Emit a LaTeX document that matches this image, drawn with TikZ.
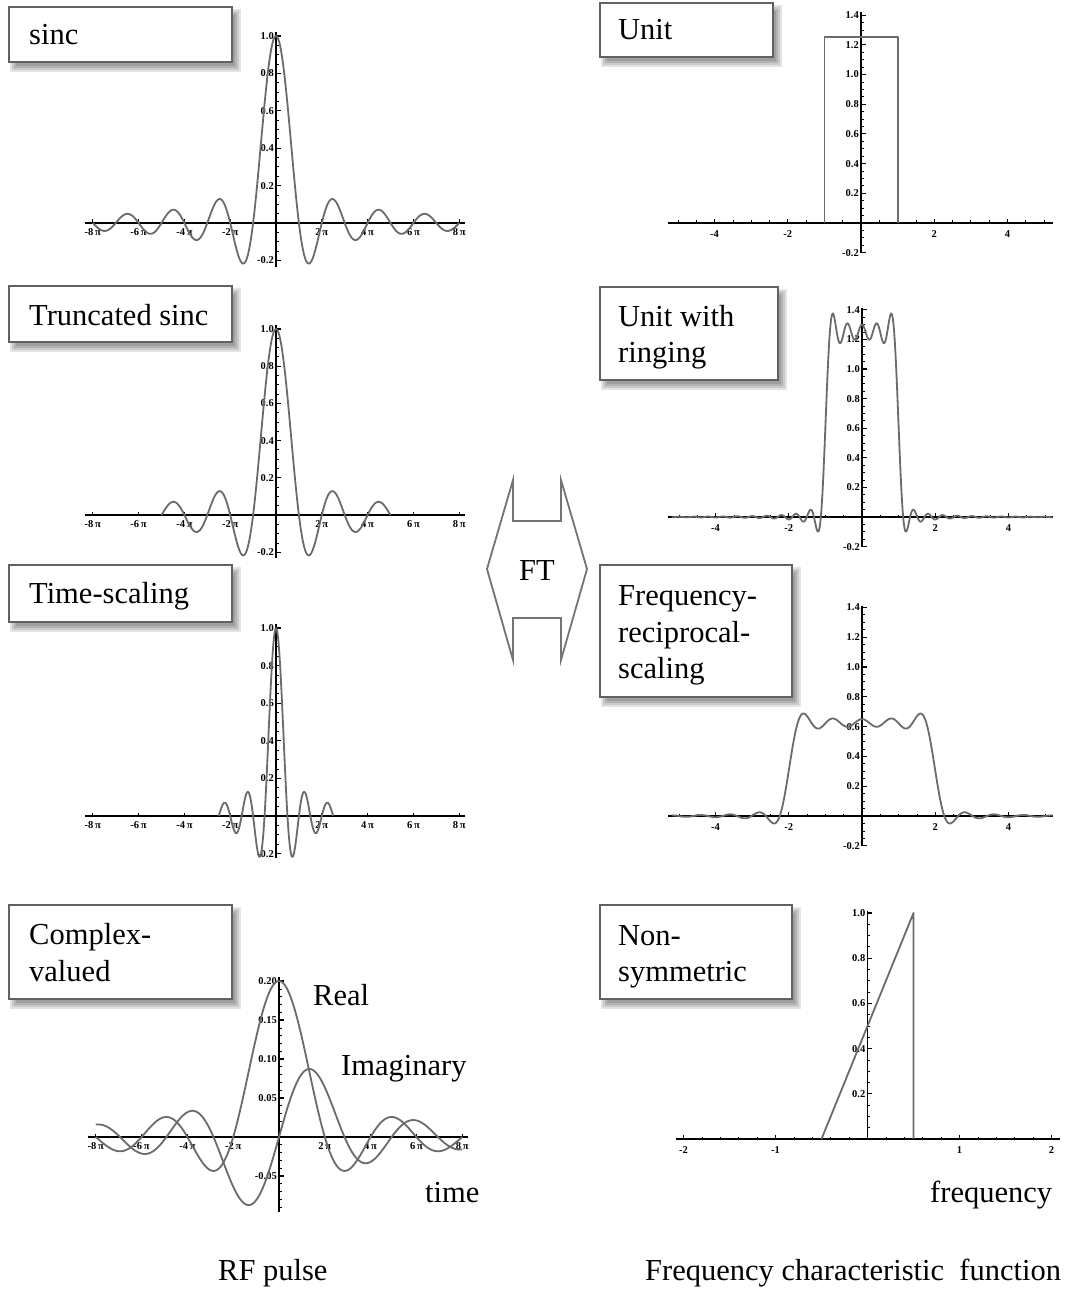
\documentclass[tikz,border=0pt]{standalone}
\usepackage{fontspec}
\setmainfont{Liberation Serif}
\tikzset{
  axis/.style={black, line width=1.1pt},
  curve/.style={draw=black!58, line width=1.8pt, line join=round},
  boxst/.style={draw=black!62, line width=1.8pt, fill=white, inner sep=0pt, outer sep=0pt},
  lbl/.style={font=\fontsize{30.5}{36}\selectfont, inner sep=0pt, anchor=base west},
  tick/.style={font=\fontsize{10.5}{11}\selectfont\bfseries, inner sep=0.5pt},
  ftarrow/.style={draw=black!55, line width=1.8pt, fill=white, line join=miter},
}
% shadowed label box: name, x1, y1, x2, y2
\newcommand\pbox[5]{%
  \foreach \e in {-2,0,2,4}{\fill[black,opacity=0.11] ({#2+5-\e},{#3+6-\e}) rectangle ({#4+5+\e},{#5+6+\e});}
  \node[boxst, anchor=north west, minimum width={#4-#2}, minimum height={#5-#3}] (#1) at (#2,#3) {};
}
% time axis: x0, y0, left, right
\newcommand\taxes[4]{%
  \draw[axis] (#3,#2) -- (#4,#2);
  \foreach \k in {-8,-6,-4,-2,2,4,6,8}{
    \draw[axis] ({#1+22.9*\k},#2) -- ({#1+22.9*\k},{#2-3.5});
    \node[tick] at ({#1+22.9*\k},{#2+9}) {\k\,π};}
}
% frequency axis: x0, y0, sx, left, right, minor list, label list
\newcommand\fxaxis[7]{%
  \draw[axis] (#4,#2) -- (#5,#2);
  \foreach \w in {#6}{\draw[axis,line width=0.8pt] ({#1+#3*\w},#2) -- ({#1+#3*\w},{#2-2.5});}
  \foreach \w in {#7}{\draw[axis] ({#1+#3*\w},#2) -- ({#1+#3*\w},{#2-4});
    \node[tick] at ({#1+#3*\w},{#2+11}) {\w};}
}
% y axis line: x0, y0, sy, bottom, top
\newcommand\yline[5]{\draw[axis] (#1,{#2-#3*(#5)}) -- (#1,{#2-#3*(#4)});}
% minor ticks: x0, y0, sy, first, second, last
\newcommand\yminor[6]{\foreach \v in {#4,#5,...,#6}{\draw[axis,line width=0.8pt] (#1,{#2-#3*\v}) -- ({#1+2.5},{#2-#3*\v});}}
% major ticks with labels: x0, y0, sy, list
\newcommand\ymajor[4]{\foreach \v in {#4}{\draw[axis] (#1,{#2-#3*\v}) -- ({#1+4.5},{#2-#3*\v});
    \node[tick,anchor=east] at ({#1-1.5},{#2-#3*\v}) {\v};}}
\begin{document}
\begin{tikzpicture}[x=1pt,y=-1pt,
  declare function={
    sincf(\u)=(abs(\u)<0.02) ? 1 : sin(abs(\u) r)/max(abs(\u),0.02);
    imagf(\u)=(abs(\u)<0.3) ? (\u/3-\u*\u*\u/30) : (sin(\u r)-\u*cos(\u r))/(max(abs(\u),0.3)*max(abs(\u),0.3));
    siq(\t)=(1/\t)*(1/\t);
    sifa(\t)=(1+7.241163*siq(\t)+2.463936*siq(\t)*siq(\t))/(1+9.068580*siq(\t)+7.157433*siq(\t)*siq(\t))/\t;
    sigb(\t)=(1+7.547478*siq(\t)+1.564072*siq(\t)*siq(\t))/(1+12.723684*siq(\t)+15.723606*siq(\t)*siq(\t))*siq(\t);
    sibig(\t)=pi/2-sifa(\t)*cos(\t r)-sigb(\t)*sin(\t r);
    sismall(\t)=\t*(1-\t*\t*(0.0555556-\t*\t*0.0016667));
    sipos(\t)=(\t<1) ? sismall(min(\t,1)) : sibig(max(\t,1));
    siint(\t)=\t/max(abs(\t),0.0001)*sipos(abs(\t));
  }]
\fill[white] (0,0) rectangle (1065,1289);
\useasboundingbox (0,0) rectangle (1065,1289);

% ---------- left column: RF pulses ----------
% sinc
\pbox{b1}{9}{7}{232}{62}
\node[lbl] (t1) at (29,45) {sinc};
\yline{276}{223}{187}{-0.235}{1.02}
\yminor{276}{223}{187}{-0.2}{-0.15}{1.0}
\ymajor{276}{223}{187}{1.0,0.8,0.6,0.4,0.2,-0.2}
\taxes{276}{223}{85}{465}
\draw[curve] plot[domain=-8:8,samples=400] ({276+22.9*\x},{223-187*sincf(pi*\x)});

% truncated sinc
\pbox{b2}{9}{286}{232}{342}
\node[lbl] (t2) at (29,325) {Truncated sinc};
\yline{276}{515}{186}{-0.23}{1.02}
\yminor{276}{515}{186}{-0.2}{-0.15}{1.0}
\ymajor{276}{515}{186}{1.0,0.8,0.6,0.4,0.2,-0.2}
\taxes{276}{515}{85}{465}
\draw[curve] plot[domain=-5:5,samples=300] ({276+22.9*\x},{515-186*sincf(pi*\x)});

% time scaling
\pbox{b3}{9}{565}{232}{622}
\node[lbl] (t3) at (29,603) {Time-scaling};
\yline{276}{816}{188}{-0.225}{1.02}
\yminor{276}{816}{188}{-0.2}{-0.15}{1.0}
\ymajor{276}{816}{188}{1.0,0.8,0.6,0.4,0.2,-0.2}
\taxes{276}{816}{85}{465}
\draw[curve] plot[domain=-2.5:2.5,samples=250] ({276+22.9*\x},{816-188*sincf(2*pi*\x)});

% complex valued
\pbox{b4}{9}{905}{232}{999}
\node[lbl] (t4a) at (29,944) {Complex-};
\node[lbl] (t4b) at (29,981) {valued};
\yline{279}{1137}{780}{-0.096}{0.205}
\yminor{279}{1137}{780}{-0.09}{-0.08}{0.2}
\ymajor{279}{1137}{780}{0.20,0.15,0.10,0.05,-0.05}
\taxes{279}{1137}{88}{468}
\draw[curve] plot[domain=-8:8,samples=400] ({279+22.9*\x},{1137-156*sincf(pi*\x/2)});
\draw[curve] plot[domain=-8:8,samples=400] ({279+22.9*\x},{1137-156*imagf(pi*\x/2)});
\node[lbl] (real) at (313,1005) {Real};
\node[lbl] (imag) at (341,1075) {Imaginary};
\node[lbl] (time) at (425,1202) {time};

% ---------- right column: frequency characteristics ----------
% unit
\pbox{b5}{600}{3}{773}{57}
\node[lbl] (t5) at (618,40) {Unit};
\yline{861}{223}{148.5}{-0.2}{1.42}
\yminor{861}{223}{148.5}{-0.2}{-0.15}{1.4}
\ymajor{861}{223}{148.5}{1.4,1.2,1.0,0.8,0.6,0.4,0.2,-0.2}
\fxaxis{861}{223}{36.6}{668}{1053}{-5,-4.5,...,5}{-4,-2,2,4}
\draw[curve] (824.4,223) -- (824.4,37.4) -- (897.6,37.4) -- (897.6,223);

% unit with ringing
\pbox{b6}{600}{287}{778}{380}
\node[lbl] (t6a) at (618,326) {Unit with};
\node[lbl] (t6b) at (618,362) {ringing};
\yline{862}{517}{148}{-0.2}{1.41}
\yminor{862}{517}{148}{-0.2}{-0.15}{1.4}
\ymajor{862}{517}{148}{1.4,1.2,1.0,0.8,0.6,0.4,0.2,-0.2}
\fxaxis{862}{517}{36.6}{668}{1053}{-5,-4.5,...,5}{-4,-2,2,4}
\draw[curve] plot[domain=-5.2:5.2,samples=400] ({862+36.6*\x},{517-148*1.25/pi*(siint(5*pi*(\x+1))-siint(5*pi*(\x-1)))});

% frequency reciprocal scaling
\pbox{b7}{600}{565}{792}{697}
\node[lbl] (t7a) at (618,605) {Frequency-};
\node[lbl] (t7b) at (618,642) {reciprocal-};
\node[lbl] (t7c) at (618,678) {scaling};
\yline{862}{816}{149}{-0.2}{1.41}
\yminor{862}{816}{149}{-0.2}{-0.15}{1.4}
\ymajor{862}{816}{149}{1.4,1.2,1.0,0.8,0.6,0.4,0.2,-0.2}
\fxaxis{862}{816}{36.6}{668}{1053}{-5,-4.5,...,5}{-4,-2,2,4}
\draw[curve] plot[domain=-5.2:5.2,samples=300] ({862+36.6*\x},{816-149*0.625/pi*(siint(2.5*pi*(\x+2))-siint(2.5*pi*(\x-2)))});

% non-symmetric
\pbox{b8}{600}{905}{792}{999}
\node[lbl] (t8a) at (618,945) {Non-};
\node[lbl] (t8b) at (618,981) {symmetric};
\yline{867.5}{1139}{226}{0}{1.01}
\yminor{867.5}{1139}{226}{0.05}{0.1}{1.0}
\ymajor{867.5}{1139}{226}{1.0,0.8,0.6,0.4,0.2}
\fxaxis{867.5}{1139}{92}{676}{1060}{-2,-1.8,...,2}{-2,-1,1,2}
\draw[curve] (821.5,1139) -- (913.5,913) -- (913.5,1139);
\node[lbl] (freq) at (930,1202) {frequency};

% ---------- FT double arrow ----------
\draw[ftarrow] (513,480) -- (513,521) -- (561,521) -- (561,480) -- (587,569)
  -- (561,660) -- (561,618) -- (513,618) -- (513,660) -- (487,569) -- cycle;
\node[lbl, anchor=base] (ft) at (537,580) {FT};

% ---------- captions ----------
\node[lbl] (capL) at (218,1280) {RF pulse};
\node[lbl] (capR) at (645,1280) {Frequency characteristic\hspace{0.5em}function};
\end{tikzpicture}
\end{document}
